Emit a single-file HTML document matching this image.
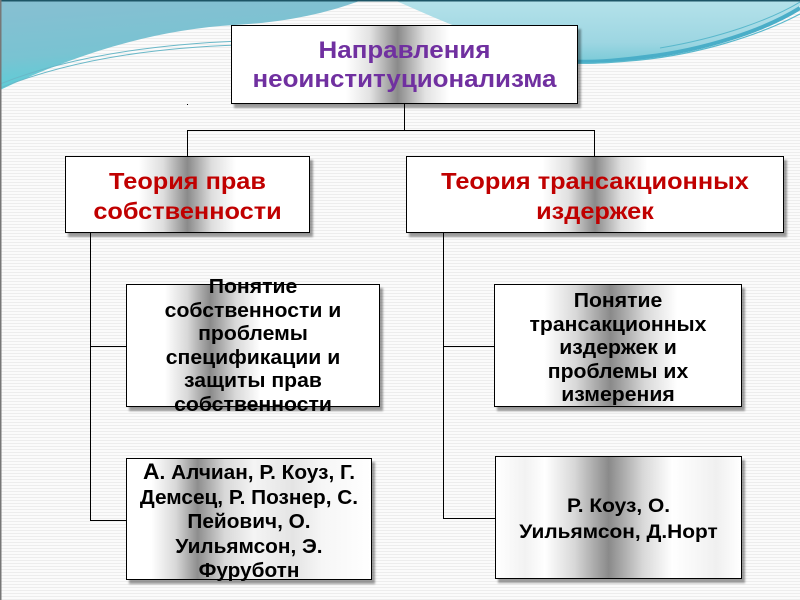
<!DOCTYPE html>
<html><head><meta charset="utf-8">
<style>
html,body{margin:0;padding:0;}
body{width:800px;height:600px;position:relative;overflow:hidden;
background:repeating-linear-gradient(to bottom,#fbfbfb 0px,#fbfbfb 2px,#ededed 2px,#ededed 3px);
font-family:"Liberation Sans",Arial,sans-serif;}
.bx{position:absolute;box-sizing:border-box;border:1.5px solid #000;box-shadow:3px 4px 2px rgba(0,0,0,0.38);}
.ln{position:absolute;background:#000;}
.tx{position:absolute;text-align:center;font-weight:bold;white-space:nowrap;z-index:5;}
.tx div{transform-origin:center;}
</style></head><body>

<svg width="800" height="600" style="position:absolute;left:0;top:0" xmlns="http://www.w3.org/2000/svg">
<defs>
<linearGradient id="g1" x1="0" y1="0" x2="0.3" y2="1">
<stop offset="0" stop-color="#88bfd2"/><stop offset="0.6" stop-color="#79c3d2"/><stop offset="1" stop-color="#55d0d8"/>
</linearGradient>
<linearGradient id="g2" x1="0" y1="0" x2="0" y2="1">
<stop offset="0" stop-color="#b5e2ea"/><stop offset="0.7" stop-color="#9dd6e2"/><stop offset="1" stop-color="#7ccbd8"/>
</linearGradient>
</defs>
<path d="M0,0 H362 C330,12 290,22 235,25 C160,29 80,52 0,90 Z" fill="url(#g1)"/>
<path d="M394,0 H800 V6 C765,28 705,48 645,56 C615,60 590,62 565,60 C500,48 445,22 394,0 Z" fill="url(#g2)"/>
<path d="M800,8 C765,30 705,50 645,57 C615,61 590,63 565,61" fill="none" stroke="#4aaec8" stroke-width="4"/>
<path d="M800,14 C760,35 700,54 640,60 C610,63 590,64 570,63" fill="none" stroke="#5ab8cc" stroke-width="1.2"/>
<path d="M800,2 C770,20 720,38 660,48" fill="none" stroke="#5ab8cc" stroke-width="1"/>
<path d="M0,84 C60,60 140,45 240,41" fill="none" stroke="#6ab8c8" stroke-width="1"/>
<path d="M0,88 C60,64 140,48 240,45" fill="none" stroke="#6ab8c8" stroke-width="1"/>
<rect x="0" y="0" width="800" height="1.5" fill="#1d5566"/>
<rect x="0" y="0" width="1.5" height="600" fill="#777"/>
<rect x="187" y="104" width="1" height="1" fill="#000"/>
</svg>

<!-- connectors -->
<div class="ln" style="left:404px;top:103px;width:1px;height:27px"></div>
<div class="ln" style="left:187px;top:130px;width:408px;height:1px"></div>
<div class="ln" style="left:187px;top:130px;width:1px;height:27px"></div>
<div class="ln" style="left:594px;top:130px;width:1px;height:27px"></div>
<div class="ln" style="left:90px;top:232px;width:1px;height:289px"></div>
<div class="ln" style="left:90px;top:346px;width:36px;height:1px"></div>
<div class="ln" style="left:90px;top:520px;width:36px;height:1px"></div>
<div class="ln" style="left:443px;top:232px;width:1px;height:287px"></div>
<div class="ln" style="left:443px;top:346px;width:51px;height:1px"></div>
<div class="ln" style="left:443px;top:518px;width:52px;height:1px"></div>

<!-- boxes -->
<div class="bx" style="left:231px;top:25px;width:347px;height:79px;background:linear-gradient(to right,#fff 0%,#fff 33%,#e2e2e2 40%,#8a8a8a 48%,#e2e2e2 56%,#fff 63%,#fff 100%)"></div>
<div class="bx" style="left:65px;top:156px;width:245px;height:77px;background:linear-gradient(to right,#fff 0%,#fff 30%,#dedede 40%,#8a8a8a 50%,#dedede 60%,#fff 70%,#fff 100%)"></div>
<div class="bx" style="left:406px;top:156px;width:378px;height:77px;background:linear-gradient(to right,#fff 0%,#fff 36%,#e0e0e0 43%,#8a8a8a 50%,#e0e0e0 57%,#fff 64%,#fff 100%)"></div>
<div class="bx" style="left:126px;top:284px;width:254px;height:123px;background:linear-gradient(to right,#fff 0%,#fff 15%,#d8d8d8 24%,#8a8a8a 33%,#d8d8d8 43%,#fff 53%,#fff 100%)"></div>
<div class="bx" style="left:494px;top:284px;width:248px;height:123px;background:linear-gradient(to right,#fff 0%,#fff 20%,#d8d8d8 33%,#8a8a8a 47%,#d8d8d8 61%,#fff 74%,#fff 100%)"></div>
<div class="bx" style="left:126px;top:458px;width:246px;height:122px;background:linear-gradient(to right,#fff 0%,#fff 10%,#d8d8d8 20%,#8e8e8e 29%,#d8d8d8 40%,#f4f4f4 52%,#e4e4e4 68%,#f6f6f6 80%,#fff 100%)"></div>
<div class="bx" style="left:495px;top:456px;width:247px;height:123px;background:linear-gradient(to right,#fff 0%,#f2f2f2 12%,#fff 20%,#d8d8d8 32%,#8a8a8a 46%,#d8d8d8 60%,#fff 72%,#f0f0f0 90%,#fff 100%)"></div>

<!-- texts -->
<div class="tx" style="left:231px;top:36px;width:347px;font-size:24px;line-height:29px;color:#7030a0">
<div style="transform:scaleX(1.08)">Направления</div>
<div style="transform:scaleX(1.08)">неоинституционализма</div>
</div>
<div class="tx" style="left:65px;top:166px;width:245px;font-size:23px;line-height:30px;color:#c00000">
<div style="transform:scaleX(1.1)">Теория прав</div>
<div style="transform:scaleX(1.1)">собственности</div>
</div>
<div class="tx" style="left:406px;top:166px;width:378px;font-size:23px;line-height:30px;color:#c00000">
<div style="transform:scaleX(1.1)">Теория трансакционных</div>
<div style="transform:scaleX(1.1)">издержек</div>
</div>
<div class="tx" style="left:126px;top:276px;width:254px;font-size:20px;line-height:23.5px;color:#000">
<div style="transform:scaleX(1.06)">Понятие</div>
<div style="transform:scaleX(1.06)">собственности и</div>
<div style="transform:scaleX(1.06)">проблемы</div>
<div style="transform:scaleX(1.06)">спецификации и</div>
<div style="transform:scaleX(1.06)">защиты прав</div>
<div style="transform:scaleX(1.06)">собственности</div>
</div>
<div class="tx" style="left:494px;top:290px;width:248px;font-size:20px;line-height:23.5px;color:#000">
<div style="transform:scaleX(1.06)">Понятие</div>
<div style="transform:scaleX(1.06)">трансакционных</div>
<div style="transform:scaleX(1.06)">издержек и</div>
<div style="transform:scaleX(1.06)">проблемы их</div>
<div style="transform:scaleX(1.06)">измерения</div>
</div>
<div class="tx" style="left:126px;top:460px;width:246px;font-size:20px;line-height:24.5px;color:#000">
<div style="transform:scaleX(1.04)"><span style="font-size:22px">А</span>. Алчиан, Р. Коуз, Г.</div>
<div style="transform:scaleX(1.04)">Демсец, Р. Познер, С.</div>
<div style="transform:scaleX(1.04)">Пейович, О.</div>
<div style="transform:scaleX(1.04)">Уильямсон, Э.</div>
<div style="transform:scaleX(1.04)">Фуруботн</div>
</div>
<div class="tx" style="left:495px;top:494px;width:247px;font-size:19px;line-height:26px;color:#000">
<div style="transform:scaleX(1.1)">Р. Коуз, О.</div>
<div style="transform:scaleX(1.1)">Уильямсон, Д.Норт</div>
</div>

</body></html>
